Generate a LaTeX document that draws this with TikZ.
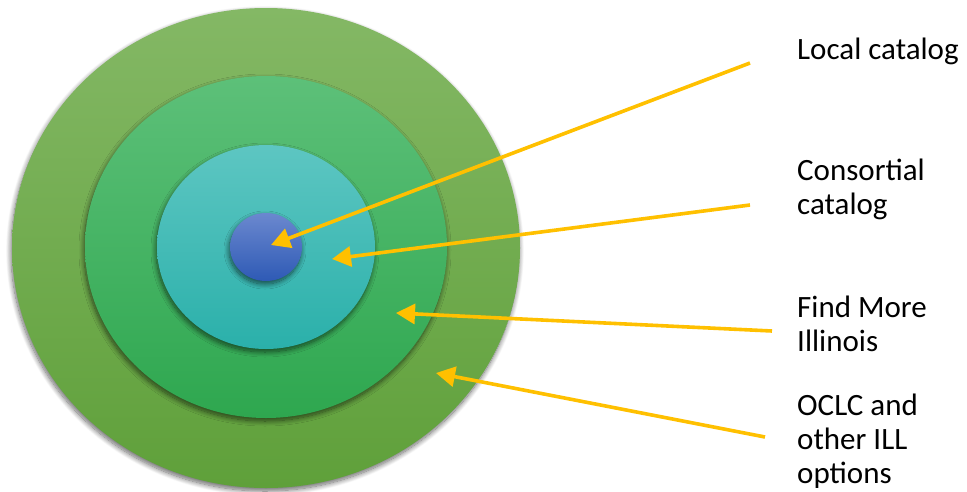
\documentclass[tikz,border=0pt]{standalone}
\usepackage{fontspec}
\setmainfont{Carlito}
\usetikzlibrary{arrows.meta,shadows.blur}
\definecolor{arrowc}{HTML}{FFC000}
\definecolor{ringAtop}{HTML}{84B865}
\definecolor{ringAbot}{HTML}{5FA03A}
\definecolor{ringBtop}{HTML}{5DC079}
\definecolor{ringBbot}{HTML}{2EA74F}
\definecolor{ringCtop}{HTML}{5DC6C2}
\definecolor{ringCbot}{HTML}{2AB0AA}
\definecolor{coretop}{HTML}{6B88CF}
\definecolor{corebot}{HTML}{2E5AB5}
\tikzset{
  ring/.style={draw=none, blur shadow={shadow xshift=-1pt, shadow yshift=-3pt, shadow blur radius=5pt, shadow blur steps=12, shadow opacity=60}},
  pointer/.style={draw=arrowc, line width=3.6pt, -{Triangle[length=19pt,width=20pt]}},
  lbl/.style={anchor=base west, inner sep=0pt, align=left, font=\fontsize{31}{34}\selectfont, text=black}
}
\begin{document}
\begin{tikzpicture}[x=1pt,y=-1pt]
\path[use as bounding box] (0,0) rectangle (967,491);
% rings
\path[ring, top color=ringAtop, bottom color=ringAbot] (266,248) ellipse [x radius=254, y radius=240];
\path[ring, top color=ringBtop, bottom color=ringBbot] (266,247) ellipse [x radius=181, y radius=171];
\path[ring, top color=ringCtop, bottom color=ringCbot] (266,247) ellipse [x radius=109, y radius=102];
\path[ring, top color=coretop, bottom color=corebot] (266,247) ellipse [x radius=36, y radius=34];
% tips
\coordinate (t1) at (271,245);
\coordinate (t2) at (332,259);
\coordinate (t3) at (396,313);
\coordinate (t4) at (436,373);
% starts
\coordinate (s1) at (750,63);
\coordinate (s2) at (750,205);
\coordinate (s3) at (772,331);
\coordinate (s4) at (765,437);
% labels (anchor = baseline of last line)
\node[lbl] (l1) at (797,59) {Local catalog};
\node[lbl] (l2) at (797,214) {Consortial\\catalog};
\node[lbl] (l3) at (797,351) {Find More\\Illinois};
\node[lbl] (l4) at (797,483) {OCLC and\\other ILL\\options};
% arrows
\draw[pointer] (s1) -- (t1);
\draw[pointer] (s2) -- (t2);
\draw[pointer] (s3) -- (t3);
\draw[pointer] (s4) -- (t4);
\end{tikzpicture}
\end{document}
